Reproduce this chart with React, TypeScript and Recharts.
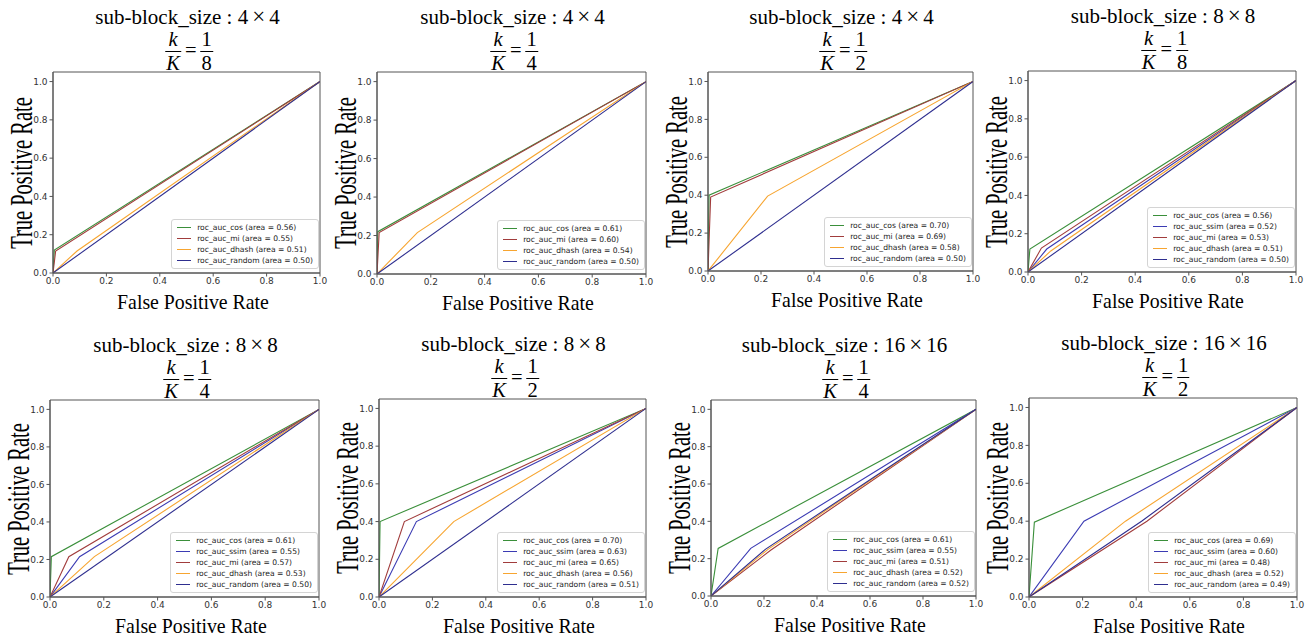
import { LineChart, Line, XAxis, YAxis, ReferenceArea, Legend } from "recharts";

const SIZES = ["4×4", "4×4", "4×4", "8×8", "8×8", "8×8", "16×16", "16×16"];
const DENOMS = ["8", "4", "2", "8", "4", "2", "4", "2"];
const TICKS = [0, 0.2, 0.4, 0.6, 0.8, 1.0];

const NAMES_4 = ["cos", "mi", "dhash", "random"];
const NAMES_5 = ["cos", "ssim", "mi", "dhash", "random"];

const COLORS: Record<string, string> = {
  cos: "#3a8f3a",
  ssim: "#3b3bb3",
  mi: "#a13c3c",
  dhash: "#f7a530",
  random: "#2e2e8f",
};

// 4x4, k/K = 1/8
const fpr1 = [[0, 0.005, 1], [0, 0.01, 1], [0, 0.09, 1], [0, 1]];
const tpr1 = [[0, 0.12, 1], [0, 0.115, 1], [0, 0.115, 1], [0, 1]];
const auc1 = [0.56, 0.55, 0.51, 0.5];

// 4x4, k/K = 1/4
const fpr2 = [[0, 0.003, 1], [0, 0.008, 1], [0, 0.15, 1], [0, 1]];
const tpr2 = [[0, 0.22, 1], [0, 0.215, 1], [0, 0.215, 1], [0, 1]];
const auc2 = [0.61, 0.6, 0.54, 0.5];

// 4x4, k/K = 1/2
const fpr3 = [[0, 0.004, 1], [0, 0.01, 1], [0, 0.225, 1], [0, 1]];
const tpr3 = [[0, 0.4, 1], [0, 0.39, 1], [0, 0.395, 1], [0, 1]];
const auc3 = [0.7, 0.69, 0.58, 0.5];

// 8x8, k/K = 1/8
const fpr4 = [[0, 0.007, 1], [0, 0.07, 1], [0, 0.05, 1], [0, 0.085, 1], [0, 1]];
const tpr4 = [[0, 0.12, 1], [0, 0.12, 1], [0, 0.125, 1], [0, 0.11, 1], [0, 1]];
const auc4 = [0.56, 0.52, 0.53, 0.51, 0.5];

// 8x8, k/K = 1/4
const fpr5 = [[0, 0.005, 1], [0, 0.11, 1], [0, 0.07, 1], [0, 0.165, 1], [0, 1]];
const tpr5 = [[0, 0.215, 1], [0, 0.215, 1], [0, 0.215, 1], [0, 0.215, 1], [0, 1]];
const auc5 = [0.61, 0.55, 0.57, 0.53, 0.5];

// 8x8, k/K = 1/2
const fpr6 = [[0, 0.004, 1], [0, 0.14, 1], [0, 0.095, 1], [0, 0.28, 1], [0, 1]];
const tpr6 = [[0, 0.4, 1], [0, 0.4, 1], [0, 0.4, 1], [0, 0.4, 1], [0, 1]];
const auc6 = [0.7, 0.63, 0.65, 0.56, 0.51];

// 16x16, k/K = 1/4
const fpr7 = [[0, 0.027, 1], [0, 0.15, 1], [0, 0.225, 1], [0, 0.215, 1], [0, 0.205, 1]];
const tpr7 = [[0, 0.255, 1], [0, 0.255, 1], [0, 0.245, 1], [0, 0.25, 1], [0, 0.25, 1]];
const auc7 = [0.61, 0.55, 0.51, 0.52, 0.52];

// 16x16, k/K = 1/2
const fpr8 = [[0, 0.02, 1], [0, 0.205, 1], [0, 0.44, 1], [0, 0.36, 1], [0, 0.42, 1]];
const tpr8 = [[0, 0.395, 1], [0, 0.4, 1], [0, 0.4, 1], [0, 0.4, 1], [0, 0.4, 1]];
const auc8 = [0.69, 0.6, 0.48, 0.52, 0.49];

const FPRS = [fpr1, fpr2, fpr3, fpr4, fpr5, fpr6, fpr7, fpr8];
const TPRS = [tpr1, tpr2, tpr3, tpr4, tpr5, tpr6, tpr7, tpr8];
const AUCS = [auc1, auc2, auc3, auc4, auc5, auc6, auc7, auc8];

// plot area of each panel: left, top, width, height
const BOXES = [
  [53, 72, 267, 201],
  [377, 72, 269, 202],
  [708, 72, 265, 199],
  [1028, 71, 268, 201],
  [50, 400, 269, 197],
  [379, 399, 267, 198],
  [711, 400, 265, 196],
  [1029, 398, 268, 199],
];

const SERIF = "'Liberation Serif', 'Times New Roman', serif";
const SANS = "'DejaVu Sans', sans-serif";

type Series = { name: string; color: string; data: { x: number; y: number }[] };

function LegendBox({ items }: { items: Series[] }) {
  return (
    <div
      style={{
        border: "1px solid #d4d4d4",
        borderRadius: 3,
        background: "rgba(255,255,255,0.85)",
        padding: "2px 5px 2px 5px",
        fontFamily: SANS,
        fontSize: 7.6,
        lineHeight: "11px",
        color: "#222",
      }}
    >
      {items.map((p) => (
        <div key={p.name} style={{ display: "flex", alignItems: "center", height: 11 }}>
          <span style={{ width: 14, height: 0, borderTop: `1.4px solid ${p.color}`, marginRight: 6 }} />
          <span style={{ whiteSpace: "nowrap" }}>{p.name}</span>
        </div>
      ))}
    </div>
  );
}

function Frac({ top, bottom, italic }: { top: string; bottom: string; italic?: boolean }) {
  const fs = italic ? "italic" : "normal";
  return (
    <span style={{ display: "inline-flex", flexDirection: "column", alignItems: "center" }}>
      <span style={{ lineHeight: "23px", height: 23, fontStyle: fs, padding: "0 1px" }}>{top}</span>
      <span style={{ alignSelf: "stretch", borderTop: "1.4px solid #000" }} />
      <span style={{ lineHeight: "23px", height: 23, fontStyle: fs, padding: "0 1px" }}>{bottom}</span>
    </span>
  );
}

function Panel({ i }: { i: number }) {
  const [L, T, w, h] = BOXES[i];
  const names = FPRS[i].length === 4 ? NAMES_4 : NAMES_5;
  const series: Series[] = names.map((n, j) => ({
    name: `roc_auc_${n} (area = ${AUCS[i][j].toFixed(2)})`,
    color: COLORS[n],
    data: FPRS[i][j].map((x, k) => ({ x, y: TPRS[i][j][k] })),
  }));
  const cx = L + w / 2;
  const [a, b] = SIZES[i].split("×");

  return (
    <>
      <div
        style={{
          position: "absolute",
          left: cx + 1,
          top: T - 66,
          transform: "translateX(-50%)",
          whiteSpace: "nowrap",
          fontFamily: SERIF,
          fontSize: 21,
          lineHeight: "21px",
          color: "#000",
        }}
      >
        sub-block_size : {a}
        <span style={{ fontSize: 23, margin: "0 4px", lineHeight: "21px" }}>×</span>
        {b}
      </div>
      <div
        style={{
          position: "absolute",
          left: cx + 2.5,
          top: T - 44,
          transform: "translateX(-50%)",
          display: "flex",
          alignItems: "center",
          fontFamily: SERIF,
          fontSize: 20.5,
          color: "#000",
        }}
      >
        <Frac top="k" bottom="K" italic />
        <span style={{ margin: "0 4px", position: "relative", top: -2, lineHeight: "20px" }}>=</span>
        <Frac top="1" bottom={DENOMS[i]} />
      </div>
      <div
        style={{
          position: "absolute",
          left: L - 31,
          top: T + h / 2,
          transform: "translate(-50%, -50%) rotate(-90deg) scaleX(0.66)",
          whiteSpace: "nowrap",
          fontFamily: SERIF,
          fontSize: 31,
          lineHeight: "22px",
        }}
      >
        True Positive Rate
      </div>
      <div
        style={{
          position: "absolute",
          left: cx + 6,
          top: T + h + 18,
          transform: "translateX(-50%) scaleX(0.9)",
          whiteSpace: "nowrap",
          fontFamily: SERIF,
          fontSize: 22,
          lineHeight: "22px",
        }}
      >
        False Positive Rate
      </div>
      <div style={{ position: "absolute", left: L - 40, top: T - 5 }}>
        <LineChart width={w + 50} height={h + 25} margin={{ top: 5, right: 10, left: 0, bottom: 0 }}>
          <XAxis
            type="number"
            dataKey="x"
            domain={[0, 1]}
            ticks={TICKS}
            tickFormatter={(v: number) => v.toFixed(1)}
            height={20}
            tickSize={3.5}
            tickMargin={1}
            stroke="#555"
            tick={{ fontSize: 9, fill: "#333", fontFamily: SANS }}
            allowDataOverflow
          />
          <YAxis
            type="number"
            domain={[0, 1.05]}
            ticks={TICKS}
            tickFormatter={(v: number) => v.toFixed(1)}
            width={40}
            tickSize={3.5}
            tickMargin={2}
            stroke="#555"
            tick={{ fontSize: 9, fill: "#333", fontFamily: SANS }}
            allowDataOverflow
          />
          <ReferenceArea x1={0} x2={1} y1={0} y2={1.05} fill="none" stroke="#555" strokeWidth={1} />
          {series.map((s) => (
            <Line
              key={s.name}
              data={s.data}
              dataKey="y"
              name={s.name}
              type="linear"
              stroke={s.color}
              strokeWidth={1.1}
              dot={false}
              activeDot={false}
              isAnimationActive={false}
            />
          ))}
          <Legend
            layout="horizontal"
            verticalAlign="middle"
            align="center"
            content={() => <LegendBox items={series} />}
            wrapperStyle={{ right: 11, bottom: 24, left: "auto", top: "auto", width: "auto", height: "auto" }}
          />
        </LineChart>
      </div>
    </>
  );
}

export default function App() {
  return (
    <div
      style={{
        position: "absolute",
        left: 0,
        top: 0,
        width: 1310,
        height: 642,
        background: "#fff",
        overflow: "hidden",
      }}
    >
      {BOXES.map((_, i) => (
        <Panel key={i} i={i} />
      ))}
    </div>
  );
}
